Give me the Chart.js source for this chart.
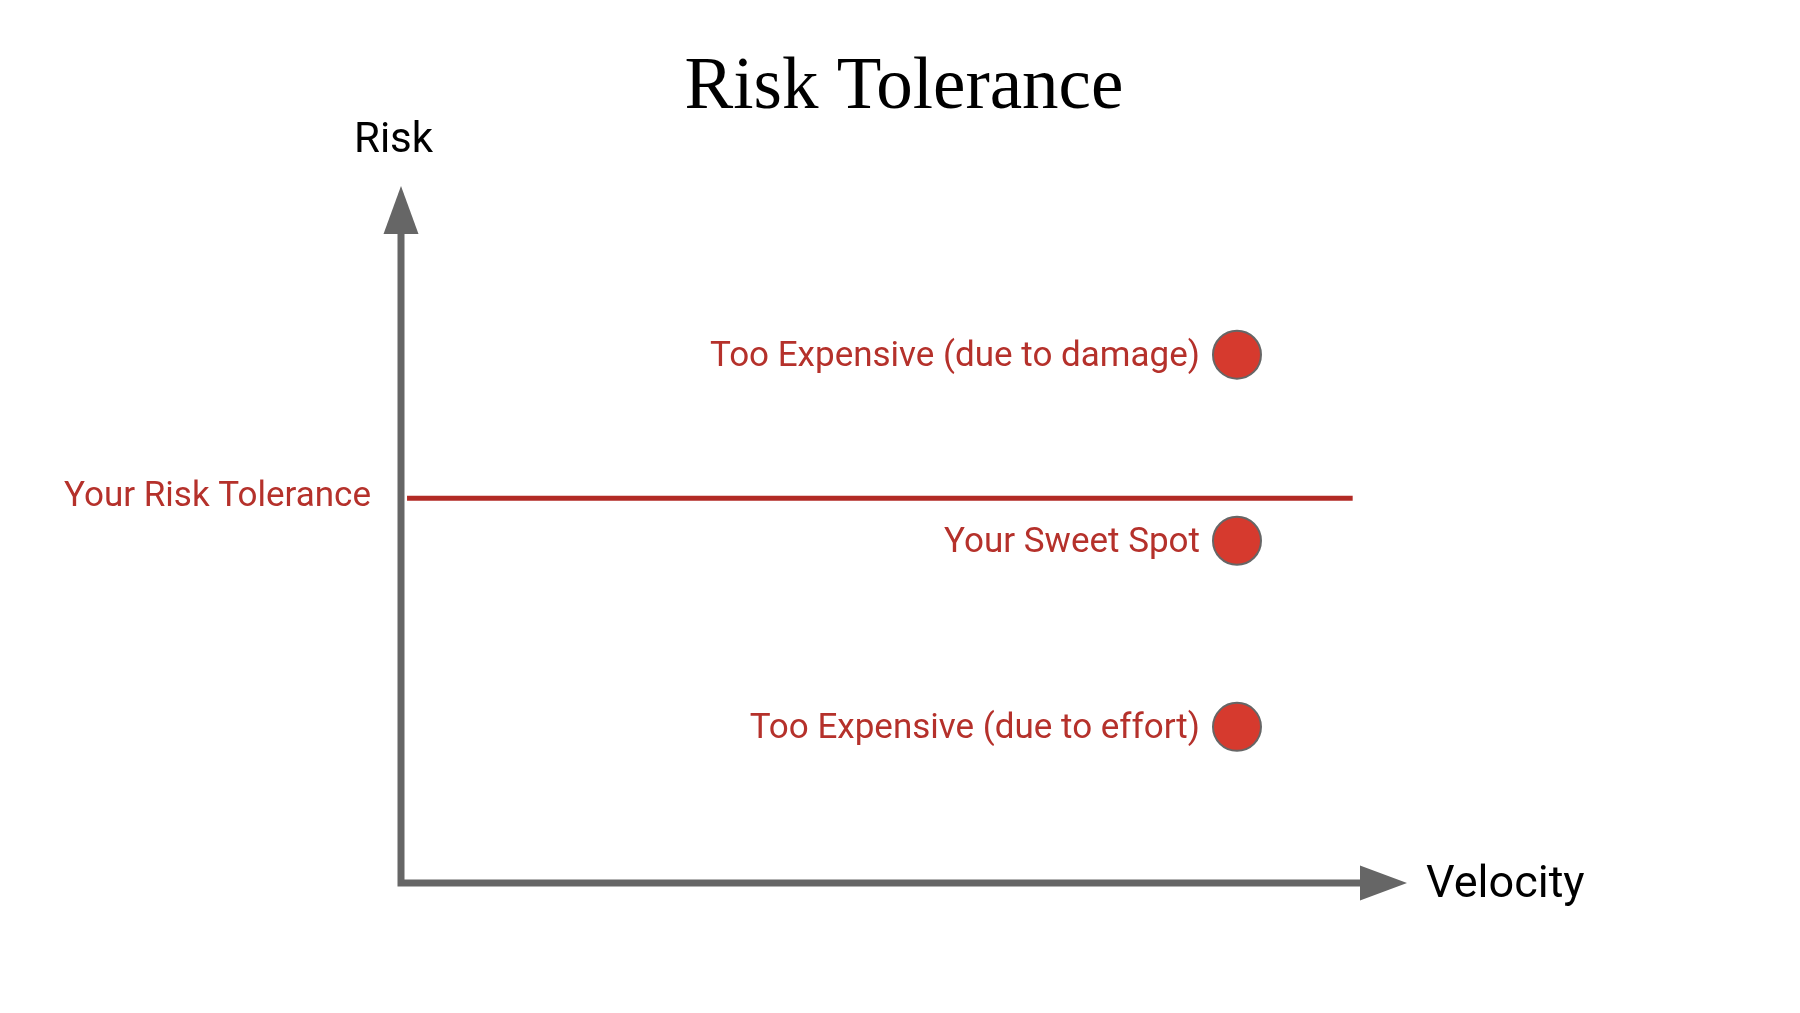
<!DOCTYPE html>
<html>
<head>
<meta charset="utf-8">
<script src="https://cdn.jsdelivr.net/npm/chart.js@4"></script>
<style>
  html, body { margin: 0; padding: 0; background: #fff; }
  #wrap { width: 1800px; height: 1013px; }
</style>
</head>
<body>
<div id="wrap"><canvas id="riskChart"></canvas></div>
<script>
// chart values
const pointLabels = ['Too Expensive (due to damage)', 'Your Sweet Spot', 'Too Expensive (due to effort)'];
const velocity = [83.1, 83.1, 83.1];
const risk = [75.8, 49.1, 22.4];
const toleranceLabel = 'Your Risk Tolerance';
const toleranceRisk = 55.2;
const toleranceVelocity = [0.6, 94.6];
const titleText = 'Risk Tolerance';
const xAxisLabel = 'Velocity';
const yAxisLabel = 'Risk';

const RED_TEXT = '#b5312b';
const AXIS_GREY = '#666666';

// axes with arrow heads, title and all text labels
const decorations = {
  id: 'decorations',
  afterDatasetsDraw(chart) {
    const { ctx, scales } = chart;
    const x0 = scales.x.getPixelForValue(0);
    const y0 = scales.y.getPixelForValue(0);
    const xEnd = scales.x.getPixelForValue(100);
    const yEnd = scales.y.getPixelForValue(100);
    ctx.save();

    // axis lines
    ctx.strokeStyle = AXIS_GREY;
    ctx.fillStyle = AXIS_GREY;
    ctx.lineWidth = 7;
    ctx.beginPath();
    ctx.moveTo(x0, y0 + 3.5);
    ctx.lineTo(x0, yEnd + 46);
    ctx.moveTo(x0 - 3.5, y0);
    ctx.lineTo(xEnd - 46, y0);
    ctx.stroke();

    // arrow heads
    ctx.beginPath();
    ctx.moveTo(x0, yEnd);
    ctx.lineTo(x0 - 17.5, yEnd + 48);
    ctx.lineTo(x0 + 17.5, yEnd + 48);
    ctx.closePath();
    ctx.fill();
    ctx.beginPath();
    ctx.moveTo(xEnd, y0);
    ctx.lineTo(xEnd - 47, y0 - 17.5);
    ctx.lineTo(xEnd - 47, y0 + 17.5);
    ctx.closePath();
    ctx.fill();

    // title
    ctx.fillStyle = '#000';
    ctx.font = '73px "Liberation Serif", serif';
    ctx.textAlign = 'center';
    ctx.textBaseline = 'alphabetic';
    ctx.fillText(titleText, 904, 108);

    // axis names
    ctx.textAlign = 'left';
    ctx.font = '42px Roboto, sans-serif';
    ctx.fillText(yAxisLabel, 354, 152);
    ctx.font = '45px Roboto, sans-serif';
    ctx.fillText(xAxisLabel, xEnd + 19, 897);

    // tolerance label
    ctx.fillStyle = RED_TEXT;
    ctx.font = '35px Roboto, sans-serif';
    ctx.textAlign = 'right';
    ctx.fillText(toleranceLabel, 371, 506);

    // point labels
    const meta = chart.getDatasetMeta(1);
    meta.data.forEach((pt, i) => {
      ctx.fillText(pointLabels[i], pt.x - 37, pt.y + 11);
    });
    ctx.restore();
  }
};

new Chart(document.getElementById('riskChart'), {
  type: 'scatter',
  data: {
    datasets: [
      {
        type: 'line',
        data: toleranceVelocity.map((v) => ({ x: v, y: toleranceRisk })),
        borderColor: '#b22a25',
        borderWidth: 5,
        pointRadius: 0,
      },
      {
        data: velocity.map((v, i) => ({ x: v, y: risk[i] })),
        backgroundColor: '#d63a2e',
        borderColor: '#666666',
        borderWidth: 2,
        pointRadius: 24,
        pointHoverRadius: 24,
      },
    ],
  },
  options: {
    responsive: true,
    maintainAspectRatio: false,
    animation: false,
    layout: { padding: { left: 401, right: 393, top: 186, bottom: 130 } },
    plugins: { legend: { display: false }, tooltip: { enabled: false } },
    scales: {
      x: { display: false, min: 0, max: 100 },
      y: { display: false, min: 0, max: 100 },
    },
  },
  plugins: [decorations],
});
</script>
</body>
</html>
